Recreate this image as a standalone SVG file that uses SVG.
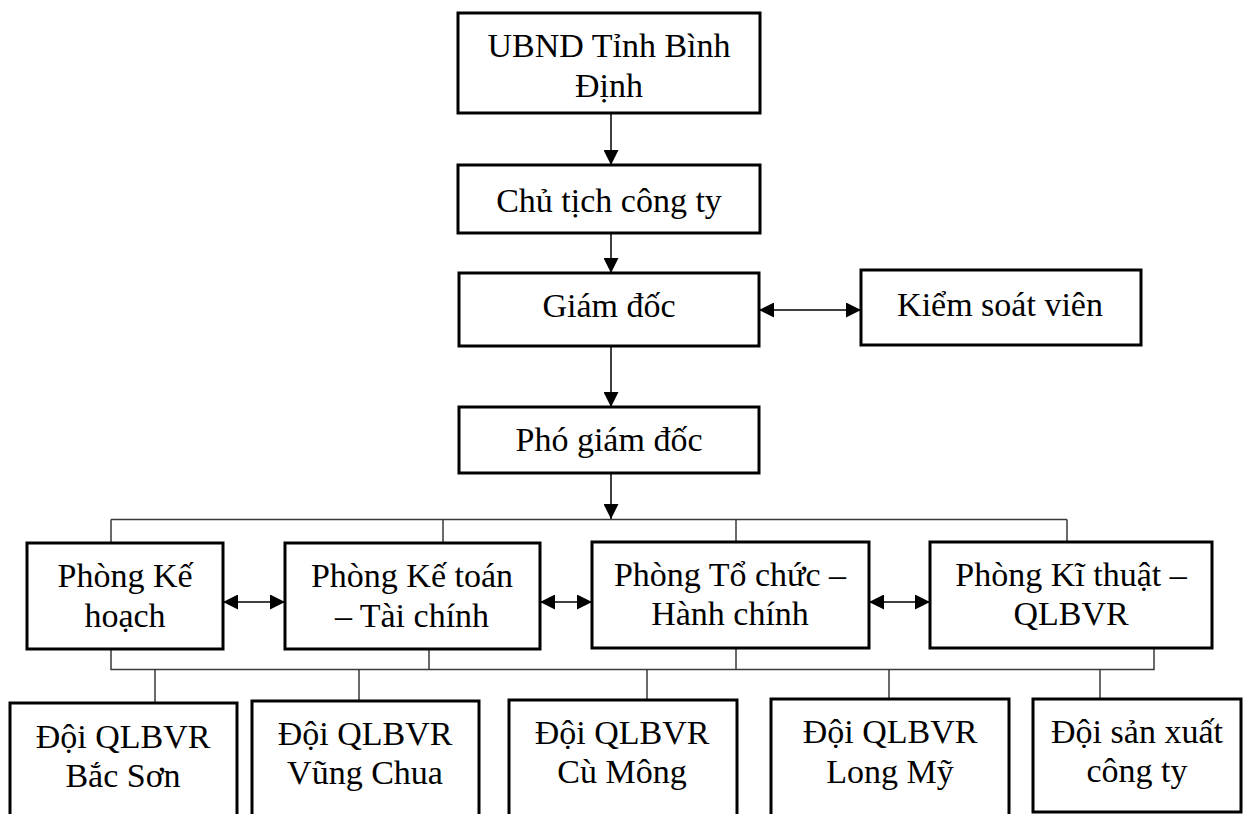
<svg xmlns="http://www.w3.org/2000/svg" width="1246" height="814" viewBox="0 0 1246 814">
<style>
.box{fill:#fff;stroke:#000;stroke-width:3}
.t{font-family:'Liberation Serif','DejaVu Serif',serif;font-size:34px;fill:#000;text-anchor:middle}
.c{stroke:#000;stroke-width:1.5;fill:none}
.bus{stroke:#3a3a3a;stroke-width:1.5;fill:none}
</style>
<defs>
<marker id="ah" viewBox="0 0 14 14" refX="14" refY="7" markerWidth="15" markerHeight="15" markerUnits="userSpaceOnUse" orient="auto-start-reverse">
<path d="M0,0 L14,7 L0,14 z" fill="#000"/>
</marker>
</defs>
<rect width="1246" height="814" fill="#fff"/>
<g id="connectors">
<line class="c" x1="611" y1="113" x2="611" y2="165" marker-end="url(#ah)"/>
<line class="c" x1="611" y1="233" x2="611" y2="273" marker-end="url(#ah)"/>
<line class="c" x1="611" y1="346" x2="611" y2="407" marker-end="url(#ah)"/>
<line class="c" x1="759" y1="310" x2="861" y2="310" marker-start="url(#ah)" marker-end="url(#ah)"/>
<line class="c" x1="611" y1="473" x2="611" y2="519" marker-end="url(#ah)"/>
<path class="bus" d="M111,519.5 H1067 M111,519.5 V543 M443,519.5 V543 M736,519.5 V542 M1067,519.5 V542"/>
<line class="c" x1="223" y1="602" x2="285" y2="602" marker-start="url(#ah)" marker-end="url(#ah)"/>
<line class="c" x1="540" y1="602" x2="592" y2="602" marker-start="url(#ah)" marker-end="url(#ah)"/>
<line class="c" x1="869" y1="602" x2="930" y2="602" marker-start="url(#ah)" marker-end="url(#ah)"/>
<path class="bus" d="M111,649 V669.5 H1154 V648 M429,649 V669.5 M736,648 V669.5 M155,669.5 V703 M359,669.5 V701 M647,669.5 V700 M889,669.5 V699 M1100,669.5 V699"/>
</g>
<g id="ubnd"><rect class="box" x="458" y="13" width="302" height="100"/><text class="t" x="609" y="57">UBND Tỉnh Bình</text><text class="t" x="609" y="97">Định</text></g>
<g id="chutich"><rect class="box" x="458" y="165" width="302" height="68"/><text class="t" x="609" y="212">Chủ tịch công ty</text></g>
<g id="giamdoc"><rect class="box" x="459" y="273" width="300" height="73"/><text class="t" x="609" y="317">Giám đốc</text></g>
<g id="kiemsoat"><rect class="box" x="861" y="270" width="280" height="75"/><text class="t" x="1000" y="316">Kiểm soát viên</text></g>
<g id="phogiamdoc"><rect class="box" x="459" y="407" width="300" height="66"/><text class="t" x="609" y="451">Phó giám đốc</text></g>
<g id="phong-kehoach"><rect class="box" x="27" y="543" width="196" height="106"/><text class="t" x="125" y="587">Phòng Kế</text><text class="t" x="125" y="627">hoạch</text></g>
<g id="phong-ketoan"><rect class="box" x="285" y="543" width="255" height="106"/><text class="t" x="412" y="587">Phòng Kế toán</text><text class="t" x="412" y="627">– Tài chính</text></g>
<g id="phong-tochuc"><rect class="box" x="592" y="542" width="277" height="106"/><text class="t" x="730" y="586">Phòng Tổ chức –</text><text class="t" x="730" y="625">Hành chính</text></g>
<g id="phong-kithuat"><rect class="box" x="930" y="542" width="282" height="106"/><text class="t" x="1071" y="586">Phòng Kĩ thuật –</text><text class="t" x="1071" y="625">QLBVR</text></g>
<g id="doi-bacson"><rect class="box" x="10" y="703" width="227" height="120"/><text class="t" x="123" y="748">Đội QLBVR</text><text class="t" x="123" y="787">Bắc Sơn</text></g>
<g id="doi-vungchua"><rect class="box" x="252" y="701" width="227" height="120"/><text class="t" x="365" y="745">Đội QLBVR</text><text class="t" x="365" y="784">Vũng Chua</text></g>
<g id="doi-cumong"><rect class="box" x="509" y="700" width="228" height="120"/><text class="t" x="622" y="744">Đội QLBVR</text><text class="t" x="622" y="783">Cù Mông</text></g>
<g id="doi-longmy"><rect class="box" x="771" y="699" width="238" height="120"/><text class="t" x="890" y="743">Đội QLBVR</text><text class="t" x="890" y="783">Long Mỹ</text></g>
<g id="doi-sanxuat"><rect class="box" x="1033" y="699" width="208" height="113"/><text class="t" x="1137" y="743">Đội sản xuất</text><text class="t" x="1137" y="782">công ty</text></g>
</svg>
